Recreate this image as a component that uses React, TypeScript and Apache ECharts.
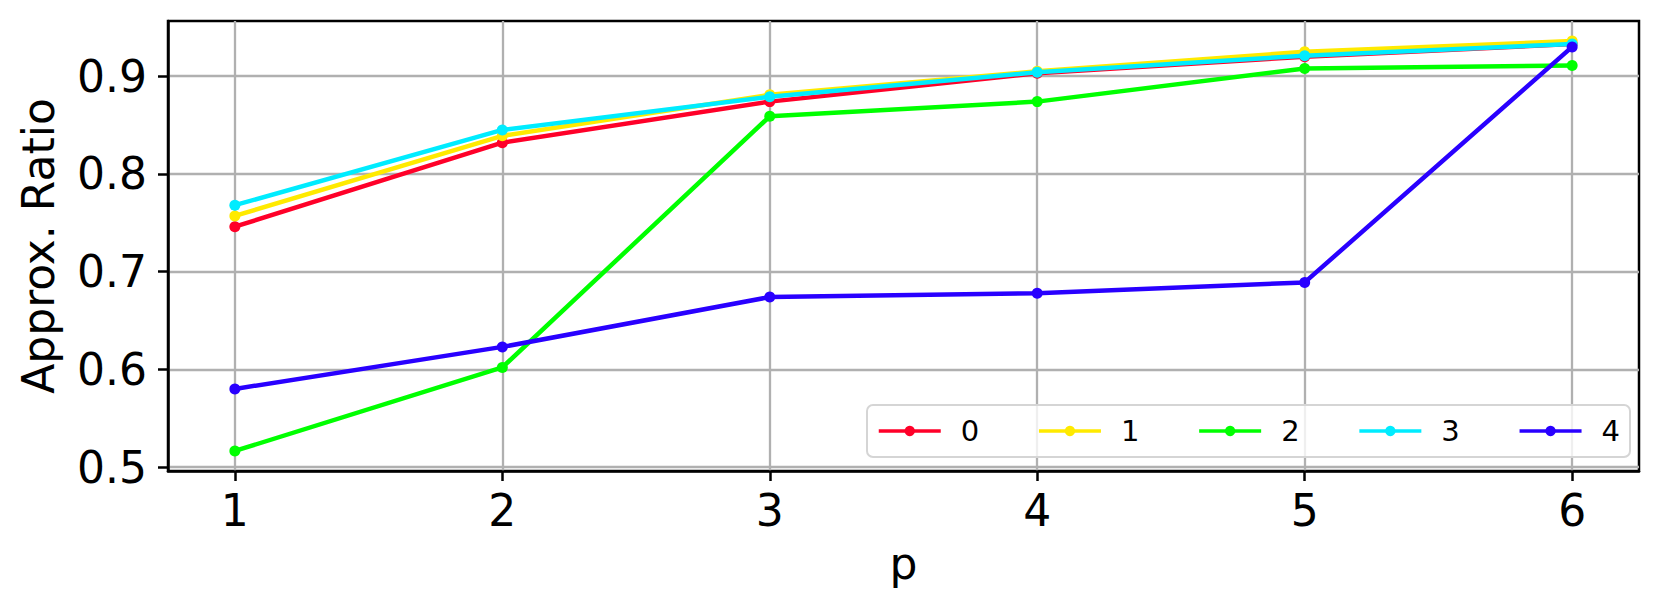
import React, { useEffect, useRef } from "react";
import * as echarts from "echarts";

const pValues = [1, 2, 3, 4, 5, 6];
const seriesNames = ["0", "1", "2", "3", "4"];
const series0 = [0.746, 0.832, 0.874, 0.903, 0.92, 0.933];
const series1 = [0.757, 0.839, 0.881, 0.905, 0.925, 0.936];
const series2 = [0.5165, 0.602, 0.859, 0.874, 0.908, 0.911];
const series3 = [0.768, 0.845, 0.879, 0.904, 0.921, 0.933];
const series4 = [0.58, 0.623, 0.674, 0.678, 0.689, 0.93];
const xTicks = [1, 2, 3, 4, 5, 6];
const yTicks = [0.5, 0.6, 0.7, 0.8, 0.9];
const colors = ["#ff0029", "#ffea00", "#00ff00", "#00ecff", "#2900ff"];

const allSeries = [series0, series1, series2, series3, series4];
const FONT = "DejaVu Sans";

export default function App() {
  const ref = useRef<HTMLDivElement>(null);
  useEffect(() => {
    if (!ref.current) return;
    const chart = echarts.init(ref.current, null, { renderer: "svg" });
    chart.setOption({
      animation: false,
      backgroundColor: "#ffffff",
      grid: {
        left: 168,
        right: 21,
        top: 21,
        bottom: 141,
        containLabel: false,
        outerBoundsMode: "none",
        show: true,
        borderColor: "#000000",
        borderWidth: 2.5,
        backgroundColor: "transparent",
      },
      legend: {
        left: 867,
        top: 405,
        orient: "horizontal",
        data: seriesNames,
        itemWidth: 62,
        itemHeight: 13,
        itemGap: 58,
        padding: [11, 10, 11, 10],
        backgroundColor: "rgba(255,255,255,0.8)",
        borderColor: "#d5d5d5",
        borderWidth: 2,
        borderRadius: 6,
        lineStyle: { width: 3.5 },
        textStyle: {
          fontFamily: FONT,
          fontSize: 29,
          lineHeight: 30,
          color: "#000000",
          padding: [0, 0, 0, 15],
        },
      },
      xAxis: {
        type: "value",
        min: 0.75,
        max: 6.25,
        name: "p",
        nameLocation: "middle",
        nameGap: 70,
        nameTextStyle: { fontFamily: FONT, fontSize: 44, color: "#000000" },
        axisLine: { show: true, lineStyle: { color: "#000000", width: 2.5 } },
        axisTick: {
          show: true,
          inside: false,
          length: 10,
          customValues: xTicks,
          lineStyle: { color: "#000000", width: 2.5 },
        },
        axisLabel: {
          customValues: xTicks,
          margin: 17,
          fontFamily: FONT,
          fontSize: 44,
          color: "#000000",
          formatter: (v: number) => String(v),
        },
        splitLine: { show: true, lineStyle: { color: "#b0b0b0", width: 2.3 } },
      },
      yAxis: {
        type: "value",
        min: 0.496,
        max: 0.9565,
        name: "Approx. Ratio",
        nameLocation: "middle",
        nameGap: 108,
        nameTextStyle: { fontFamily: FONT, fontSize: 44, color: "#000000" },
        axisLine: { show: true, lineStyle: { color: "#000000", width: 2.5 } },
        axisTick: {
          show: true,
          inside: false,
          length: 10,
          customValues: yTicks,
          lineStyle: { color: "#000000", width: 2.5 },
        },
        axisLabel: {
          customValues: yTicks,
          margin: 21,
          fontFamily: FONT,
          fontSize: 44,
          color: "#000000",
          formatter: (v: number) => v.toFixed(1),
        },
        splitLine: { show: true, lineStyle: { color: "#b0b0b0", width: 2.3 } },
      },
      series: allSeries.map((vals, i) => ({
        name: seriesNames[i],
        type: "line",
        data: pValues.map((p, j) => [p, vals[j]]),
        symbol: "circle",
        symbolSize: 11,
        showSymbol: true,
        color: colors[i],
        itemStyle: { color: colors[i] },
        lineStyle: { color: colors[i], width: 4.5 },
        emphasis: { disabled: true },
        z: 2 + i,
      })),
    });
    return () => chart.dispose();
  }, []);
  return (
    <div
      ref={ref}
      style={{ position: "fixed", left: 0, top: 0, width: 1660, height: 612, background: "#fff" }}
    />
  );
}
